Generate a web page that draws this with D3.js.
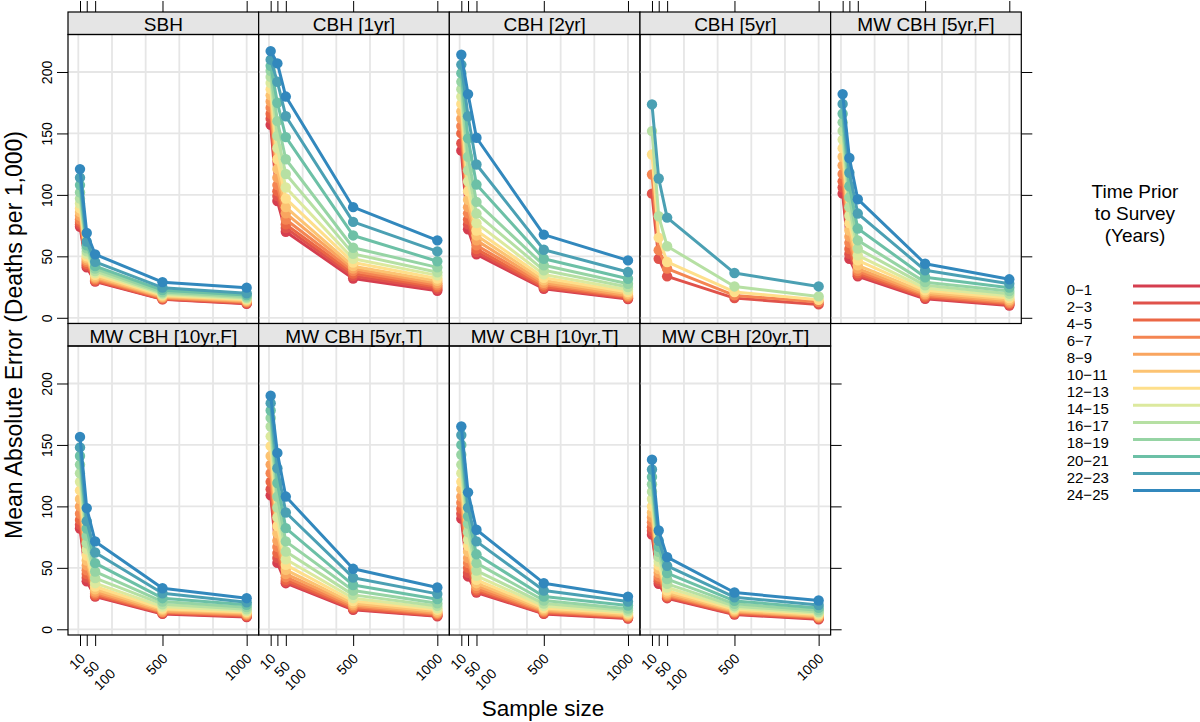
<!DOCTYPE html>
<html><head><meta charset="utf-8">
<script src="https://cdn.jsdelivr.net/npm/d3@7"></script>
<style>
body{margin:0;background:#fff}
svg{display:block;font-family:"Liberation Sans",Arial,Helvetica,sans-serif}
</style>
</head><body>
<svg id="chart" width="1200" height="722"></svg>
<script>
// ---------------- data ----------------
const sampleSizes = [10, 50, 100, 500, 1000];
const xTickLabels = ["10", "\n50", "\n\n100", "500", "1000"];
const yTicks = [0, 50, 100, 150, 200];
const xGrid = [0, 200, 400, 600, 800, 1000];
const timeGroups = ["0\u22121","2\u22123","4\u22125","6\u22127","8\u22129","10\u221211","12\u221213",
                    "14\u221215","16\u221217","18\u221219","20\u221221","22\u221223","24\u221225"];
const seriesColors = ["#D53E4F","#E0524B","#EB6745","#F48552","#F9A55F","#FCC372","#FEDF8B",
                      "#DCE99E","#B6E0A3","#96D4A4","#6CC0A6","#4BA0B3","#3288BD"];
const panelNames = ["SBH","CBH [1yr]","CBH [2yr]","CBH [5yr]","MW CBH [5yr,F]",
                    "MW CBH [10yr,F]","MW CBH [5yr,T]","MW CBH [10yr,T]","MW CBH [20yr,T]"];
const yTitle = "Mean Absolute Error (Deaths per 1,000)";
const xTitle = "Sample size";
const legendTitle = ["Time Prior", "to Survey", "(Years)"];

// each array: one row per sample size (10, 50, 100, 500, 1000), 13 values per row (0-1 ... 24-25)
const sbh = [
  [74, 76, 78, 80, 83, 86, 89, 93, 97, 102, 108, 114, 121],
  [41, 42.5, 44, 45.5, 47, 48.5, 50, 52, 54, 56.5, 59, 62, 69],
  [29.5, 30, 30.5, 31.5, 32.5, 33.5, 35, 36.5, 38, 40, 42, 45.5, 51.6],
  [15, 15.3, 15.7, 16.2, 16.8, 17.5, 18.2, 19, 20, 21, 22.5, 24.5, 29],
  [11.4, 11.8, 12.3, 12.8, 13.4, 14, 14.8, 15.5, 16.3, 17.3, 18.5, 20, 24.5]
];
const cbh1 = [
  [157, 162, 166, 171, 176, 181, 186, 191, 196, 201, 205, 210, 217],
  [95, 99, 103, 108, 114, 121, 129, 138, 148, 160, 175, 192, 207],
  [70, 73, 76, 80, 85, 90, 97, 106, 117, 129, 147, 164, 180],
  [32, 34, 36, 38, 40, 42, 45, 48, 52, 57, 67, 78, 90],
  [22, 23.5, 25, 26.5, 28, 30, 32, 34.5, 37, 41, 46, 54, 63]
];
const cbh2 = [
  [136, 142, 150, 156, 162, 168, 174, 180, 186, 192, 199, 206, 214],
  [72, 76, 80, 85, 90, 96, 103, 111, 120, 131, 146, 164, 182],
  [51.6, 53.5, 56, 59, 63, 67, 71, 77, 84.8, 94.3, 108.4, 124.7, 146.5],
  [23.6, 24.5, 25.5, 27, 28.5, 30.4, 32.6, 35.3, 38.6, 42.7, 48, 55.4, 67.7],
  [15.2, 15.8, 16.6, 17.4, 18.2, 19.6, 21, 22.8, 25, 27.7, 31.8, 37.2, 46.7]
];
const cbh5 = [
  [null, 101, null, 116.6, null, null, 132.9, null, 151.9, null, null, 173.6, null],
  [null, 48, null, 55, null, null, 65.2, null, 82.6, null, null, 113.3, null],
  [null, 33.7, null, 40, null, null, 45.4, null, 58.2, null, null, 81.5, null],
  [null, 16, null, 18.2, null, null, 21, null, 25.5, null, null, 36.4, null],
  [null, 10.9, null, 12.8, null, null, 14.7, null, 17.4, null, null, 25.5, null]
];
const mw5F = [
  [101, 106, 111, 117, 124, 131, 138, 145, 152, 159, 166, 174, 182],
  [48, 52, 56, 61, 66, 71, 77, 83, 90, 98, 107, 118, 130],
  [33.7, 35, 36.4, 38, 40, 42.7, 46.7, 50.8, 56.3, 63, 72.6, 84.8, 96.5],
  [15.5, 16.3, 17.1, 18.2, 19.3, 20.7, 22.3, 24.2, 26.4, 29, 33, 38.6, 44],
  [10, 10.6, 11.4, 12.2, 13.3, 14.7, 16, 17.7, 19.6, 21.7, 24.5, 27.7, 31.3]
];
const mw10F = [
  [82, 85, 89, 94, 100, 106, 113, 120, 127, 134, 141, 148, 156.5],
  [39, 42, 45, 48, 52, 56, 60, 65, 70, 76, 82, 88, 98.6],
  [26.6, 27.2, 28, 29.3, 30.7, 32.6, 34.8, 37.5, 41.6, 47, 53.8, 62.5, 71.5],
  [12.5, 13, 13.5, 14, 14.7, 15.8, 16.8, 18.5, 20.4, 22.6, 25.3, 29.3, 33.4],
  [10, 10.5, 11, 11.7, 12.4, 13.2, 14, 15, 16.3, 18, 20, 22, 25.3]
];
const mw5T = [
  [109, 114, 120, 127, 134, 141, 149, 157, 165, 172, 178, 184, 190],
  [54, 58, 62, 67, 72, 78, 84, 91, 99, 108, 119, 131, 143.5],
  [37.5, 38.6, 40.2, 42.4, 45, 48.4, 52.4, 57, 63.3, 71.5, 82.3, 95, 108],
  [15.8, 16.6, 17.4, 18.5, 19.8, 21.2, 23, 25.3, 28, 31.5, 36, 42, 49.2],
  [10.6, 11.1, 11.7, 12.5, 13.3, 14.4, 15.8, 17.1, 19, 21.2, 24.5, 28.8, 34]
];
const mw10T = [
  [90, 94, 98, 103, 108, 114, 120, 127, 134, 142, 150, 158, 165],
  [43, 46, 50, 54, 58, 63, 68, 73, 79, 86, 92, 99, 111.4],
  [29.9, 30.7, 32, 33.4, 35.3, 37.5, 40.2, 43.5, 47.8, 53.8, 61, 71.5, 81],
  [12.5, 13, 13.6, 14.4, 15.2, 16.3, 17.4, 19, 20.9, 23.4, 26.6, 31.5, 37.5],
  [8.7, 9.2, 9.8, 10.3, 10.9, 11.7, 12.8, 13.9, 15.2, 16.8, 19.3, 22.6, 26.6]
];
const mw20T = [
  [77, 80, 83, 87, 91, 95, 100, 106, 112, 118, 124, 130, 138],
  [37, 39, 41, 43, 46, 49, 52, 55, 59, 63, 67, 72, 80.4],
  [25.3, 25.8, 26.6, 27.4, 28.5, 29.9, 31.5, 34, 37, 40.8, 45.7, 51.6, 58.7],
  [12, 12.5, 13, 13.9, 14.4, 15.2, 16.3, 17.4, 18.8, 20.7, 23.1, 26.1, 29.9],
  [8.2, 8.7, 9.2, 9.8, 10.3, 11.1, 12, 13, 14.1, 15.5, 17.4, 19.8, 23.4]
];
const panelData = [sbh, cbh1, cbh2, cbh5, mw5F, mw10F, mw5T, mw10T, mw20T];

// ---------------- layout ----------------
const svg = d3.select("#chart");
svg.append("rect").attr("width",1200).attr("height",722).attr("fill","#fff");

const gridLeft = 68, gridRight = 1021.3, gridTop = 12, gridBottom = 635;
const nCols = 5, nRows = 2;
const colW = (gridRight - gridLeft) / nCols;
const rowH = (gridBottom - gridTop) / nRows;
const stripH = 22.5;
const tickLen = 11;

const xDomain = [-61.3, 1071.3];
const yDomain = [-4.65, 230.5];

panelNames.forEach((name, k) => {
  const col = k % nCols, row = Math.floor(k / nCols);
  const left = gridLeft + col * colW, right = left + colW;
  const stripTop = gridTop + row * rowH;
  const top = stripTop + stripH, bottom = stripTop + rowH;
  const x = d3.scaleLinear().domain(xDomain).range([left, right]);
  const y = d3.scaleLinear().domain(yDomain).range([bottom, top]);
  const g = svg.append("g");

  // grid
  g.append("g").selectAll("line").data(xGrid).join("line")
    .attr("x1", d => x(d)).attr("x2", d => x(d)).attr("y1", top).attr("y2", bottom)
    .attr("stroke", "#e6e6e6").attr("stroke-width", 1.8);
  g.append("g").selectAll("line").data(yTicks).join("line")
    .attr("y1", d => y(d)).attr("y2", d => y(d)).attr("x1", left).attr("x2", right)
    .attr("stroke", "#e6e6e6").attr("stroke-width", 1.8);

  // series
  const data = panelData[k];
  const line = d3.line().defined(d => d.v != null).x(d => x(d.s)).y(d => y(d.v));
  timeGroups.forEach((tg, i) => {
    const pts = sampleSizes.map((s, j) => ({s, v: data[j][i]}));
    if (pts.every(p => p.v == null)) return;
    const sg = g.append("g");
    sg.append("path").datum(pts).attr("d", line).attr("fill", "none")
      .attr("stroke", seriesColors[i]).attr("stroke-width", 3).attr("stroke-linejoin","round");
    sg.selectAll("circle").data(pts.filter(p => p.v != null)).join("circle")
      .attr("cx", d => x(d.s)).attr("cy", d => y(d.v)).attr("r", 5.2)
      .attr("fill", seriesColors[i]);
  });

  // strip
  g.append("rect").attr("x", left).attr("y", stripTop).attr("width", colW).attr("height", stripH)
    .attr("fill", "#e5e5e5").attr("stroke", "#000").attr("stroke-width", 1.2);
  g.append("text").attr("x", (left + right) / 2).attr("y", stripTop + 19)
    .attr("text-anchor", "middle").attr("font-size", 19).attr("fill", "#000").text(name);

  // panel border
  g.append("rect").attr("x", left).attr("y", top).attr("width", colW).attr("height", bottom - top)
    .attr("fill", "none").attr("stroke", "#000").attr("stroke-width", 1.2);

  // axes
  const styleAxis = a => { a.select(".domain").remove(); a.selectAll(".tick line").attr("stroke","#000").attr("stroke-width",1); };
  if (row === 0) {
    svg.append("g").attr("transform", `translate(0,${stripTop})`)
      .call(d3.axisTop(x).tickValues(sampleSizes).tickSize(tickLen).tickFormat(""))
      .call(styleAxis);
  }
  if (col === 0) {
    const ax = svg.append("g").attr("transform", `translate(${left},0)`)
      .call(d3.axisLeft(y).tickValues(yTicks).tickSize(tickLen))
      .call(styleAxis);
    ax.selectAll(".tick text")
      .attr("transform", "rotate(-90)").attr("x", 0).attr("y", -(tickLen + 5)).attr("dy", 0)
      .attr("text-anchor", "middle").attr("font-size", 14).attr("fill", "#000")
      .attr("font-family", null);
  }
  const isLastInRow = (k === panelNames.length - 1) || col === nCols - 1;
  if (isLastInRow) {
    svg.append("g").attr("transform", `translate(${right},0)`)
      .call(d3.axisRight(y).tickValues(yTicks).tickSize(tickLen).tickFormat(""))
      .call(styleAxis);
  }
  if (row === nRows - 1) {
    const ax = svg.append("g").attr("transform", `translate(0,${bottom})`)
      .call(d3.axisBottom(x).tickValues(sampleSizes).tickSize(tickLen).tickFormat(""))
      .call(styleAxis);
    ax.selectAll(".tick").append("text")
      .attr("transform", "translate(2,21) rotate(-45)")
      .attr("text-anchor", "end").attr("font-size", 14).attr("fill", "#000")
      .attr("dy", (d, i) => 4.9 + (xTickLabels[i].match(/\n/g) || []).length * 10.7)
      .text((d, i) => xTickLabels[i].trim());
  }
});

// titles
svg.append("text").attr("transform", "translate(21.7,335) rotate(-90)")
  .attr("text-anchor", "middle").attr("font-size", 23).attr("fill", "#000").text(yTitle);
svg.append("text").attr("x", 543).attr("y", 716)
  .attr("text-anchor", "middle").attr("font-size", 22.5).attr("fill", "#000").text(xTitle);

// legend
const lg = svg.append("g");
lg.selectAll("text.title").data(legendTitle).join("text").attr("class","title")
  .attr("x", 1135).attr("y", (d, i) => 198 + i * 22)
  .attr("text-anchor", "middle").attr("font-size", 19).attr("fill", "#000").text(d => d);
const ly = d3.scalePoint().domain(timeGroups).range([286, 286 + 17.05 * 12]);
lg.selectAll("line.key").data(timeGroups).join("line").attr("class","key")
  .attr("x1", 1133).attr("x2", 1200).attr("y1", d => ly(d)).attr("y2", d => ly(d))
  .attr("stroke", (d, i) => seriesColors[i]).attr("stroke-width", 3);
lg.selectAll("text.key").data(timeGroups).join("text").attr("class","key")
  .attr("x", 1066.7).attr("y", d => ly(d) + 9)
  .attr("font-size", 15).attr("fill", "#000").text(d => d);
</script>
</body></html>
